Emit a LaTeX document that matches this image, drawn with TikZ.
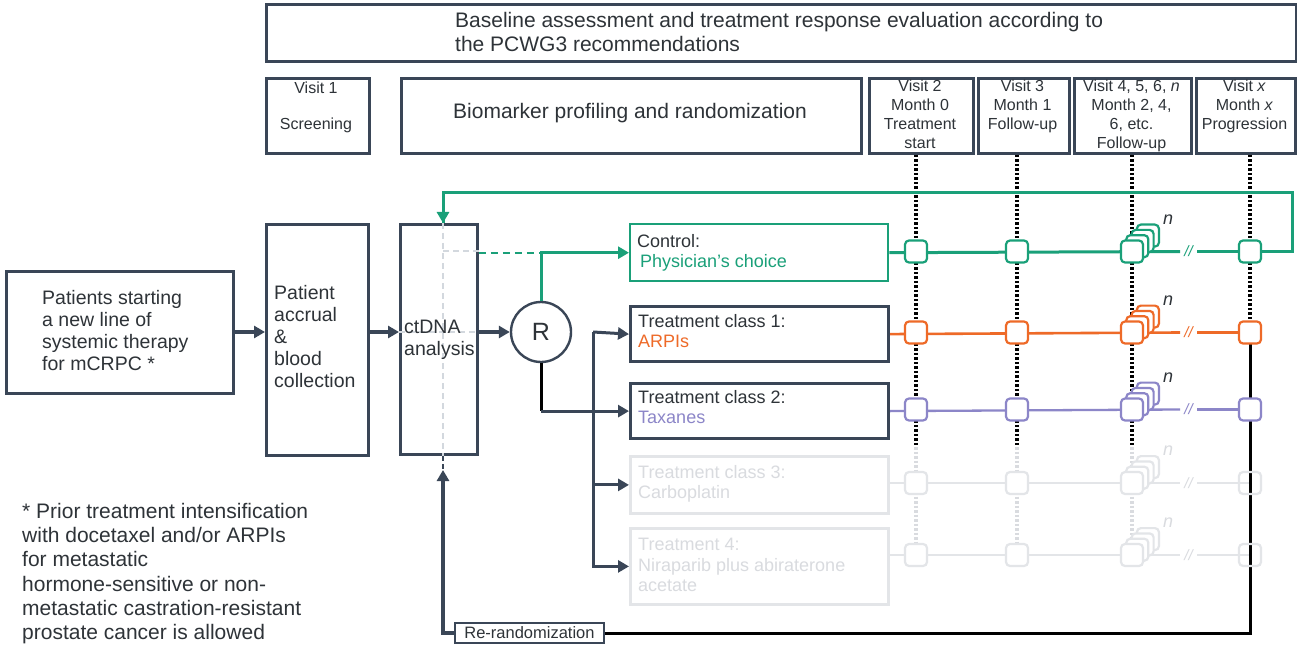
\documentclass[tikz,border=0pt]{standalone}
\usepackage{fontspec}
\setmainfont{Liberation Sans}
\usetikzlibrary{arrows.meta,calc}
\definecolor{dk}{HTML}{3A4657}
\definecolor{gr}{HTML}{1AA079}
\definecolor{og}{HTML}{EE6A28}
\definecolor{pu}{HTML}{8C86C8}
\definecolor{fd}{HTML}{E3E5E8}
\definecolor{fdt}{HTML}{D9DBDF}
\definecolor{tx}{HTML}{2E3338}
\definecolor{lg}{HTML}{D3D8DE}
\newcommand{\vfnt}{\fontsize{16}{19}\selectfont}
\newcommand{\bfnt}{\fontsize{19.5}{22}\selectfont}
\newcommand{\tfnt}{\fontsize{18}{20.5}\selectfont}
\begin{document}
\begin{tikzpicture}[x=1pt,y=-1pt,
 box/.style={draw=dk,line width=2.8pt,anchor=north west,inner sep=0pt},
 tbox/.style={draw=dk,line width=3.2pt,anchor=north west,inner sep=0pt,minimum width=258pt,minimum height=55pt},
 fbox/.style={draw=fd,line width=2.8pt,anchor=north west,inner sep=0pt,minimum width=258pt},
 txt/.style={text=tx,inner sep=0pt},
 sq/.style={draw=#1,fill=white,line width=2.2pt,rounded corners=4pt,minimum size=22pt,inner sep=0pt},
 arr/.style={-{Triangle[length=11pt,width=12pt]}},
 dotl/.style={line width=3.5pt,dash pattern=on 2.5pt off 2pt},
 fdotl/.style={draw=fdt,line width=3.5pt,dash pattern=on 2.5pt off 2pt},
 brk/.style={inner sep=0pt,font=\itshape\fontsize{15}{15}\selectfont,text=#1},
 nlab/.style={inner sep=0pt,font=\itshape\fontsize{18}{18}\selectfont,text=#1},
]
\useasboundingbox[fill=white] (0,0) rectangle (1297,660);

% ---------- top boxes ----------
\node[box,minimum width=1030pt,minimum height=57pt] (top) at (265,3) {};
\node[txt,anchor=north west,align=left,font=\fontsize{21}{24}\selectfont] (toptx) at (455,12)
  {Baseline assessment and treatment response evaluation according to\\the PCWG3 recommendations};
\node[box,minimum width=103pt,minimum height=75pt] (v1) at (265,77) {};
\node[txt,anchor=north,font=\vfnt] (v1a) at (316,82) {Visit 1};
\node[txt,anchor=north,font=\vfnt] (v1b) at (316,118) {Screening};
\node[box,minimum width=460pt,minimum height=75pt] (bio) at (400,77) {};
\node[txt,font=\fontsize{21}{24}\selectfont] (biotx) at (630,113) {Biomarker profiling and randomization};
\node[box,minimum width=104pt,minimum height=75pt] (v2) at (868,77) {};
\node[txt,anchor=north,align=center,font=\vfnt] (v2t) at (920,80) {Visit 2\\Month 0\\Treatment\\start};
\node[box,minimum width=91pt,minimum height=75pt] (v3) at (977,77) {};
\node[txt,anchor=north,align=center,font=\vfnt] (v3t) at (1022.5,80) {Visit 3\\Month 1\\Follow-up};
\node[box,minimum width=117pt,minimum height=75pt] (v4) at (1073,77) {};
\node[txt,anchor=north,align=center,font=\vfnt] (v4t) at (1131.5,80) {Visit 4, 5, 6, \textit{n}\\Month 2, 4,\\6, etc.\\Follow-up};
\node[box,minimum width=99pt,minimum height=75pt] (vx) at (1195,77) {};
\node[txt,anchor=north,align=center,font=\vfnt] (vxt) at (1244.5,80) {Visit \textit{x}\\Month \textit{x}\\Progression};

% ---------- left flow ----------
\node[box,minimum width=227pt,minimum height=122pt] (pat) at (5,270) {};
\node[txt,anchor=north west,align=left,font=\bfnt] (patt) at (42,290)
  {Patients starting\\a new line of\\systemic therapy\\for mCRPC *};
\node[box,minimum width=102pt,minimum height=231pt] (acc) at (265,223) {};
\node[txt,anchor=north west,align=left,font=\bfnt] (acct) at (274,285)
  {Patient\\accrual\\\&\\blood\\collection};
\node[box,minimum width=77pt,minimum height=230pt] (ct) at (399,223) {};
\coordinate (ctin) at (443,223);
\coordinate (reup) at (443,470);
% light dashed guides inside ctDNA box
\draw[lg,line width=1.6pt,dash pattern=on 6pt off 4pt] (ctin) -- (ctin |- ct.south);
\draw[lg,line width=1.6pt,dash pattern=on 6pt off 4pt] (ctin |- 0,251) -- (ct.east |- 0,251);
\draw[lg,line width=1.6pt,dash pattern=on 6pt off 4pt] (ct.west |- 0,332) -- (ct.east |- 0,332);
\node[txt,anchor=north west,align=left,font=\bfnt] (ctt) at (404,320) {ctDNA\\analysis};
\draw[dk,line width=2.4pt,dash pattern=on 5pt off 3pt] (ctin |- ct.south) -- (reup);

\node[draw=dk,line width=2.4pt,circle,minimum size=60pt,inner sep=0pt,font=\fontsize{25}{25}\selectfont,text=tx] (R) at (541,332) {R};

\draw[dk,line width=3.4pt,arr] (pat.east |- 0,332) -- (acc.west |- 0,332);
\draw[dk,line width=3.4pt,arr] (acc.east |- 0,332) -- (ct.west |- 0,332);
\draw[dk,line width=3.4pt,arr] (ct.east |- R) -- (R.west);

% ---------- treatment boxes ----------
\node[draw=gr,line width=2.4pt,anchor=north west,inner sep=0pt,minimum width=258pt,minimum height=57pt] (ctl) at (629,223) {};
\node[txt,anchor=north west,align=left,font=\tfnt] (ctlt) at (637,234) {Control:\\\,\textcolor{gr}{Physician’s choice}};
\node[tbox] (t1) at (629,305) {};
\node[txt,anchor=north west,align=left,font=\tfnt] (t1t) at (638,314) {Treatment class 1:\\\textcolor{og}{ARPIs}};
\node[tbox] (t2) at (629,382) {};
\node[txt,anchor=north west,align=left,font=\tfnt] (t2t) at (638,390) {Treatment class 2:\\\textcolor{pu}{Taxanes}};
\node[fbox,minimum height=57pt] (t3) at (629,455) {};
\node[txt,anchor=north west,align=left,font=\tfnt,text=fdt] (t3t) at (638,465) {Treatment class 3:\\Carboplatin};
\node[fbox,minimum height=76pt] (t4) at (629,527) {};
\node[txt,anchor=north west,align=left,font=\tfnt,text=fdt] (t4t) at (638,538) {Treatment 4:\\Niraparib plus abiraterone\\acetate};

% ---------- connectors from R ----------
\draw[gr,line width=2.4pt,dash pattern=on 7pt off 5pt] (ct.east |- ctl) -- (R |- ctl);
\draw[gr,line width=3pt,arr] (R.north) -- (R |- ctl) -- (ctl.west);
\draw[black,line width=3pt] (R.south) -- (R |- t2);
\draw[dk,line width=3pt,arr] (R |- t2) -- (t2.west);
\coordinate (br) at (593,332);
\draw[dk,line width=3pt,arr] (br) -- (t1.west);
\draw[dk,line width=3pt,arr] (br) -- (br |- t4) -- (t4.west);
\draw[dk,line width=3pt,arr] (br |- t3) -- (t3.west);

% ---------- faded rows ----------
\foreach \r/\y in {f3/483,f4/555}{
  \coordinate (\r1) at (916,\y);
  \coordinate (\r2) at (1017,\y);
  \coordinate (\r3) at (1132,\y);
  \coordinate (\r4) at (1250,\y);
}
\draw[fd,line width=2.4pt] (t3.east |- f31) -- ($(f34)+(-70,0)$);
\draw[fd,line width=2.4pt] ($(f34)+(-53,0)$) -- (f34);
\draw[fd,line width=2.4pt] (t4.east |- f41) -- ($(f44)+(-70,0)$);
\draw[fd,line width=2.4pt] ($(f44)+(-53,0)$) -- (f44);
\node[brk=fdt] (f3b) at ($(f34)+(-61.5,0)$) {//};
\node[brk=fdt] (f4b) at ($(f44)+(-61.5,0)$) {//};
\draw[fdotl] (916,447) -- (f41);
\draw[fdotl] (1017,447) -- (f42);
\draw[fdotl] (1132,447) -- (f43);

% ---------- black dotted columns ----------
\draw[dotl] (v2.south -| f31) -- (916,447);
\draw[dotl] (v3.south -| f32) -- (1017,447);
\draw[dotl] (v4.south -| f33) -- (1132,447);
\draw[dotl] (vx.south -| f34) -- (1250,332);

% faded squares
\foreach \r in {f3,f4}{
  \node[sq=fd] (\r s1) at (\r1) {};
  \node[sq=fd] (\r s2) at (\r2) {};
  \foreach \k in {3,2,1}{\node[sq=fd] (\r st\k) at ($(\r3)+(5.3*\k,-5.3*\k)$) {};}
  \node[sq=fd] (\r s3) at (\r3) {};
  \node[nlab=fdt] (\r n) at ($(\r3)+(36,-32)$) {n};
}

% ---------- re-randomization ----------
\node[draw=dk,line width=2.4pt,fill=white,minimum width=149pt,minimum height=20pt,inner sep=0pt,font=\fontsize{16.5}{16.5}\selectfont,text=tx] (re) at (529.5,633) {Re-randomization};
\draw[dk,line width=3.2pt,arr] (re.west) -- (reup |- re) -- (reup);
\draw[black,line width=3pt] (1250,332) -- (1250,633) -- (re.east);
\node[sq=fd,fill=none] (f3s4) at (f34) {};
\node[sq=fd,fill=none] (f4s4) at (f44) {};

% ---------- coloured rows ----------
\draw[gr,line width=3pt] (ctl.east) -- (1180,251.5);
\node[brk=gr] (cb) at (1188.5,251.5) {//};
\draw[gr,line width=3pt] (1197,251.5) -- (1292,251.5) -- (1292,193) -| (ctin) ;
\draw[gr,line width=3pt,arr] (ctin |- 0,200) -- (ctin);
\draw[og,line width=2.6pt] (t1.east) -- (1180,332.5);
\node[brk=og] (ob) at (1188.5,332.5) {//};
\draw[og,line width=2.6pt] (1197,332.5) -- (1250,332.5);
\draw[pu,line width=2.3pt] (t2.east) -- (1180,409.5);
\node[brk=pu] (pb) at (1188.5,409.5) {//};
\draw[pu,line width=2.3pt] (1197,409.5) -- (1250,409.5);

\foreach \r/\c/\y in {c/gr/251.5,o/og/332.5,p/pu/409.5}{
  \node[sq=\c] (\r s1) at (916,\y) {};
  \node[sq=\c] (\r s2) at (1017,\y) {};
  \foreach \k in {3,2,1}{\node[sq=\c] (\r st\k) at ($(1132,\y)+(5.3*\k,-5.3*\k)$) {};}
  \node[sq=\c] (\r s3) at (1132,\y) {};
  \node[sq=\c] (\r s4) at (1250,\y) {};
  \node[nlab=tx] (\r n) at ($(1132,\y)+(36,-32)$) {n};
}

% ---------- footnote ----------
\node[txt,anchor=north west,align=left,font=\fontsize{21}{24.2}\selectfont] (foot) at (22,503)
  {* Prior treatment intensification\\with docetaxel and/or ARPIs\\for metastatic\\hormone-sensitive or non-\\metastatic castration-resistant\\prostate cancer is allowed};
\end{tikzpicture}
\end{document}
